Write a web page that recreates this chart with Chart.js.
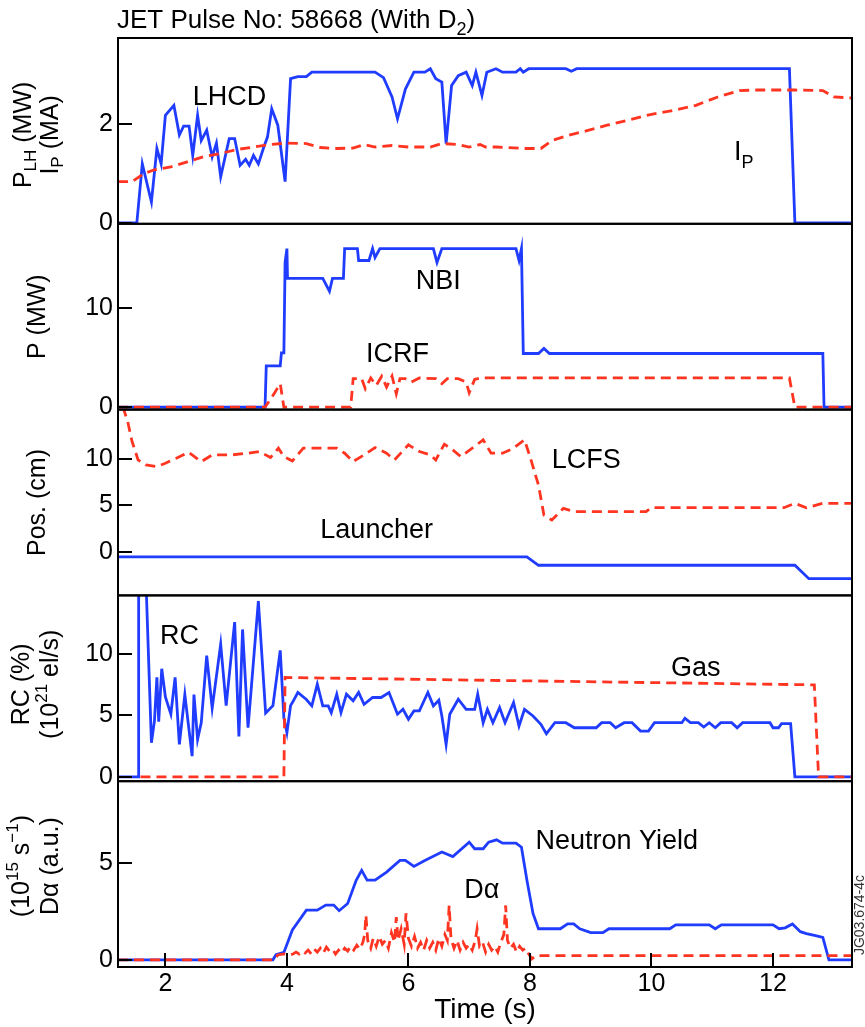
<!DOCTYPE html>
<html>
<head>
<meta charset="utf-8">
<title>JET Pulse No: 58668</title>
<script src="https://cdn.jsdelivr.net/npm/chart.js@4.4.1/dist/chart.umd.min.js"></script>
<style>
  html, body { margin: 0; padding: 0; background: #fff; }
  #wrap { position: relative; width: 865px; height: 1027px; }
</style>
</head>
<body>
<div id="wrap"><canvas id="pulse" width="865" height="1027"></canvas></div>
<script>
// ---- time axis ----
const timeTicks = [2, 4, 6, 8, 10, 12];

// ---- panel 1: LHCD power and plasma current ----
const lhTicks = [0, 2];
const lhcdTime = [1.22, 1.53, 1.62, 1.77, 1.86, 1.93, 2.0, 2.14, 2.23, 2.3, 2.39, 2.45, 2.53, 2.59, 2.68, 2.77, 2.84, 2.91, 3.05, 3.14, 3.23, 3.32, 3.38, 3.45, 3.53, 3.62, 3.68, 3.75, 3.85, 3.97, 4.06, 4.18, 4.32, 4.41, 5.45, 5.59, 5.73, 5.82, 5.95, 6.09, 6.27, 6.36, 6.45, 6.55, 6.62, 6.71, 6.82, 6.95, 7.05, 7.11, 7.21, 7.29, 7.44, 7.55, 7.77, 7.84, 7.89, 7.98, 8.59, 8.68, 8.77, 12.27, 12.36, 13.3];
const lhcdPower = [0, 0, 1.19, 0.42, 1.5, 1.19, 2.17, 2.37, 1.77, 1.95, 1.95, 1.36, 2.17, 1.66, 1.87, 1.33, 1.61, 0.93, 1.7, 1.7, 1.16, 1.28, 1.16, 1.36, 1.19, 1.53, 1.73, 2.3, 1.97, 0.83, 2.91, 2.95, 2.95, 3.04, 3.04, 2.93, 2.54, 2.1, 2.7, 3.04, 3.04, 3.11, 2.91, 2.84, 1.6, 2.77, 2.97, 3.04, 2.77, 3.04, 2.57, 3.04, 3.11, 3.04, 3.04, 3.11, 3.04, 3.11, 3.11, 3.06, 3.11, 3.11, 0, 0];
const ipTime = [1.22, 1.45, 1.64, 1.82, 2.09, 2.36, 2.64, 2.91, 3.18, 3.45, 3.73, 4.0, 4.32, 4.55, 4.82, 5.09, 5.27, 5.45, 5.73, 6.0, 6.36, 6.55, 6.82, 7.0, 7.18, 7.27, 7.45, 7.91, 8.18, 8.36, 8.64, 8.91, 9.27, 9.64, 10.0, 10.36, 10.73, 11.09, 11.45, 11.73, 12.0, 12.36, 12.82, 13.0, 13.3];
const ipCurrent = [0.83, 0.83, 0.99, 1.07, 1.13, 1.23, 1.34, 1.4, 1.48, 1.53, 1.58, 1.61, 1.6, 1.52, 1.5, 1.51, 1.58, 1.53, 1.56, 1.53, 1.53, 1.6, 1.58, 1.53, 1.58, 1.53, 1.53, 1.5, 1.5, 1.66, 1.77, 1.85, 1.97, 2.08, 2.19, 2.27, 2.37, 2.54, 2.67, 2.68, 2.68, 2.68, 2.67, 2.54, 2.52];

// ---- panel 2: NBI and ICRF power ----
const pTicks = [0, 10];
const nbiTime = [1.22, 3.64, 3.66, 3.89, 3.91, 3.95, 3.97, 4.0, 4.01, 4.59, 4.7, 4.75, 4.93, 4.95, 5.16, 5.18, 5.35, 5.41, 5.45, 5.53, 6.41, 6.47, 6.55, 7.77, 7.82, 7.86, 7.89, 8.14, 8.23, 8.32, 12.82, 12.84, 13.3];
const nbiPower = [0, 0, 4.17, 4.17, 5.49, 5.49, 14.6, 16.0, 13.0, 13.0, 11.7, 13.0, 13.0, 16.0, 16.0, 14.8, 14.8, 16.0, 15.1, 16.0, 16.0, 14.6, 16.0, 16.0, 14.8, 16.0, 5.42, 5.42, 5.93, 5.42, 5.42, 0, 0];
const icrfTime = [1.22, 3.64, 3.77, 3.89, 3.95, 5.05, 5.09, 5.23, 5.29, 5.38, 5.47, 5.56, 5.64, 5.73, 5.8, 5.86, 5.95, 6.05, 6.18, 6.45, 6.55, 6.64, 6.82, 6.95, 7.0, 7.09, 7.18, 12.27, 12.36, 13.3];
const icrfPower = [0, 0, 1.19, 2.37, 0, 0, 2.88, 2.88, 1.86, 2.95, 2.2, 3.12, 2.03, 3.15, 1.36, 2.88, 2.88, 2.54, 2.95, 2.88, 2.37, 2.88, 2.88, 2.54, 1.46, 2.81, 2.95, 2.95, 0, 0];

// ---- panel 3: LCFS and launcher position ----
const posTicks = [0, 5, 10];
const lcfsTime = [1.3, 1.38, 1.45, 1.55, 1.68, 1.86, 2.0, 2.18, 2.38, 2.59, 2.77, 3.09, 3.36, 3.55, 3.73, 3.86, 3.95, 4.09, 4.27, 4.55, 4.82, 4.95, 5.09, 5.27, 5.45, 5.64, 5.77, 6.0, 6.18, 6.36, 6.45, 6.59, 6.73, 6.86, 7.05, 7.23, 7.36, 7.55, 7.73, 7.91, 8.0, 8.14, 8.23, 8.36, 8.55, 8.73, 9.91, 10.0, 12.18, 12.36, 12.55, 12.82, 13.3];
const lcfsPos = [15.6, 14.0, 11.9, 9.9, 9.35, 9.17, 9.53, 10.07, 10.72, 9.71, 10.43, 10.43, 10.61, 10.79, 10.14, 11.15, 10.25, 9.78, 11.15, 11.15, 11.15, 10.61, 9.71, 10.43, 11.22, 10.61, 9.89, 11.51, 10.79, 10.43, 9.89, 11.58, 10.97, 10.25, 11.15, 12.05, 10.61, 10.61, 11.15, 12.05, 10.25, 7.19, 3.96, 3.42, 4.68, 4.32, 4.32, 4.75, 4.75, 5.22, 4.75, 5.22, 5.22];
const launcherTime = [1.22, 7.95, 8.14, 12.36, 12.59, 13.3];
const launcherPos = [-0.54, -0.54, -1.44, -1.44, -2.88, -2.88];

// ---- panel 4: radiation fraction and gas rate ----
const rcTicks = [0, 5, 10];
const rcTime = [1.22, 1.55, 1.56, 1.68, 1.77, 1.82, 1.86, 1.89, 1.94, 2.0, 2.09, 2.16, 2.23, 2.32, 2.44, 2.47, 2.53, 2.59, 2.68, 2.77, 2.91, 3.0, 3.14, 3.21, 3.27, 3.36, 3.41, 3.53, 3.65, 3.77, 3.89, 3.95, 4.0, 4.06, 4.09, 4.18, 4.32, 4.41, 4.5, 4.59, 4.68, 4.73, 4.82, 4.89, 4.98, 5.09, 5.18, 5.27, 5.41, 5.55, 5.68, 5.82, 5.91, 6.0, 6.09, 6.18, 6.32, 6.41, 6.5, 6.55, 6.62, 6.68, 6.82, 6.95, 7.09, 7.14, 7.23, 7.3, 7.39, 7.5, 7.59, 7.73, 7.82, 7.91, 8.05, 8.18, 8.27, 8.41, 8.59, 8.73, 9.09, 9.18, 9.32, 9.41, 9.55, 9.68, 9.82, 9.95, 10.05, 10.5, 10.55, 10.64, 10.77, 10.86, 10.95, 11.05, 11.14, 11.32, 11.41, 11.5, 11.95, 12.0, 12.09, 12.14, 12.29, 12.36, 13.3];
const rcValue = [0, 0, 16, 16, 2.78, 4.55, 8.1, 4.5, 8.8, 6.5, 5.1, 8.1, 2.64, 6.7, 1.69, 6.7, 3.05, 4.4, 9.86, 5.6, 10.8, 5.8, 12.6, 3.3, 12.0, 4.0, 7.0, 14.3, 5.2, 5.8, 10.3, 4.8, 3.6, 5.8, 6.05, 6.87, 6.3, 5.78, 7.55, 5.78, 5.78, 5.23, 6.73, 5.23, 6.73, 6.19, 6.87, 5.91, 6.46, 6.46, 6.87, 5.1, 5.5, 4.69, 5.37, 5.37, 6.87, 5.78, 6.24, 4.96, 2.64, 5.1, 6.32, 5.5, 5.5, 6.73, 4.41, 5.5, 4.41, 5.64, 4.41, 6.05, 4.14, 5.5, 4.96, 4.28, 3.51, 4.41, 4.41, 4.0, 4.0, 4.41, 4.41, 4.0, 4.41, 4.41, 3.73, 3.73, 4.41, 4.41, 4.77, 4.41, 4.41, 4.06, 4.41, 4.0, 4.41, 4.41, 4.0, 4.41, 4.41, 4.0, 4.0, 4.33, 4.33, 0, 0];
const gasTime = [1.59, 3.95, 3.97, 12.68, 12.75, 13.3];
const gasRate = [0, 0, 8.09, 7.49, 0, 0];

// ---- panel 5: neutron yield and D-alpha ----
const nTicks = [0, 5];
const neutronTime = [1.22, 3.77, 3.82, 3.95, 4.09, 4.32, 4.5, 4.64, 4.77, 4.86, 5.0, 5.14, 5.23, 5.32, 5.45, 5.64, 5.86, 5.95, 6.09, 6.27, 6.55, 6.73, 7.0, 7.09, 7.23, 7.32, 7.45, 7.55, 7.77, 7.86, 7.95, 8.05, 8.14, 8.27, 8.5, 8.62, 8.72, 8.82, 9.0, 9.2, 9.3, 10.3, 10.4, 10.95, 11.05, 11.15, 12.0, 12.1, 12.2, 12.32, 12.45, 12.55, 12.7, 12.82, 12.92, 13.3];
const neutronYield = [0, 0, 0.26, 0.38, 1.54, 2.56, 2.56, 2.82, 2.82, 2.53, 2.9, 4.1, 4.61, 4.1, 4.1, 4.52, 5.12, 5.12, 4.81, 5.12, 5.55, 5.32, 6.06, 5.72, 5.72, 6.06, 6.18, 6.01, 6.01, 5.8, 4.1, 2.39, 1.6, 1.6, 1.6, 1.85, 1.85, 1.6, 1.4, 1.4, 1.6, 1.6, 1.8, 1.8, 1.6, 1.8, 1.8, 1.6, 1.65, 1.85, 1.45, 1.35, 1.25, 1.15, 0, 0];
const dalphaTime = [1.22, 3.8, 3.85, 3.95, 4.05, 4.1, 4.15, 4.2, 4.25, 4.3, 4.35, 4.4, 4.45, 4.5, 4.55, 4.6, 4.65, 4.7, 4.75, 4.8, 4.85, 4.9, 4.95, 5.0, 5.05, 5.1, 5.15, 5.2, 5.25, 5.28, 5.3, 5.33, 5.38, 5.42, 5.47, 5.52, 5.57, 5.62, 5.67, 5.72, 5.77, 5.8, 5.83, 5.88, 5.93, 5.96, 6.0, 6.05, 6.1, 6.15, 6.2, 6.25, 6.3, 6.35, 6.4, 6.45, 6.5, 6.55, 6.6, 6.64, 6.67, 6.7, 6.75, 6.8, 6.85, 6.9, 6.95, 7.0, 7.05, 7.1, 7.13, 7.17, 7.22, 7.27, 7.32, 7.37, 7.42, 7.47, 7.52, 7.57, 7.6, 7.63, 7.68, 7.73, 7.78, 7.83, 7.88, 7.93, 7.98, 8.03, 8.1, 13.3];
const dalphaValue = [0, 0, 0.25, 0.3, 0.25, 0.3, 0.4, 0.3, 0.45, 0.35, 0.5, 0.3, 0.55, 0.4, 0.6, 0.35, 0.65, 0.45, 0.55, 0.3, 0.5, 0.35, 0.6, 0.45, 0.7, 0.5, 0.75, 0.55, 0.9, 1.3, 2.3, 1.0, 0.6, 1.1, 0.7, 1.2, 0.8, 1.0, 0.6, 1.4, 0.9, 2.2, 1.0, 1.6, 0.8, 2.4, 1.1, 0.7, 1.2, 0.6, 0.9, 0.5, 1.0, 0.6, 0.9, 0.5, 1.1, 0.7, 1.3, 1.0, 2.8, 1.1, 0.6, 1.0, 0.5, 0.9, 0.6, 0.8, 0.5, 1.0, 1.6, 0.7, 0.9, 0.4, 0.8, 0.5, 0.7, 0.4, 0.9, 1.3, 2.8, 1.0, 0.6, 0.8, 0.4, 0.7, 0.5, 0.6, 0.3, 0.05, 0.22, 0.22];

const FONT = "'Liberation Sans', Arial, Helvetica, sans-serif";
const BLUE = '#1f3cff';
const RED = '#ff3522';
const DASH = [10, 6];

const pairs = (ts, vs) => ts.map((t, i) => ({ x: t, y: vs[i] }));

// one vertical panel of the shot, all sharing the time axis;
// boxes in the left stack are laid out bottom-up by weight
function panelAxis(min, max, tickValues, weight) {
    return {
        type: 'linear',
        position: 'left',
        stack: 'shot',
        stackWeight: 1,
        weight: weight,
        min: min,
        max: max,
        afterBuildTicks: s => { s.ticks = tickValues.map(v => ({ value: v })); },
        afterFit: s => { s.width = 118; },
        grid: { display: false, drawTicks: false },
        border: { display: false },
        ticks: { font: { family: FONT, size: 25 }, color: '#000', padding: 5 }
    };
}

function solid(data, axis) {
    return { data: data, yAxisID: axis, borderColor: BLUE, borderWidth: 2.8, pointRadius: 0, fill: false, tension: 0 };
}
function dashed(data, axis) {
    return { data: data, yAxisID: axis, borderColor: RED, borderWidth: 2.8, borderDash: DASH, pointRadius: 0, fill: false, tension: 0 };
}

// text with sub/superscripts, parts = [[text, 'sub'|'sup'|undefined], ...]
function partFont(size, mode) {
    return (mode ? Math.round(size * 0.68) : size) + 'px ' + FONT;
}
function richWidth(ctx, parts, size) {
    let w = 0;
    parts.forEach(p => { ctx.font = partFont(size, p[1]); w += ctx.measureText(p[0]).width; });
    return w;
}
function drawRich(ctx, parts, x, y, size, align) {
    let cx = x;
    if (align === 'center') cx -= richWidth(ctx, parts, size) / 2;
    ctx.textAlign = 'left';
    parts.forEach(p => {
        ctx.font = partFont(size, p[1]);
        const dy = p[1] === 'sub' ? size * 0.28 : p[1] === 'sup' ? -size * 0.36 : 0;
        ctx.fillText(p[0], cx, y + dy);
        cx += ctx.measureText(p[0]).width;
    });
}

const axisTitles = [
    { axis: 'yLH', lines: [[['P'], ['LH', 'sub'], [' (MW)']], [['I'], ['P', 'sub'], [' (MA)']]], xs: [24, 51], dy: 4 },
    { axis: 'yP', lines: [[['P (MW)']]], xs: [38], dy: 0 },
    { axis: 'yPos', lines: [[['Pos. (cm)']]], xs: [38], dy: 0 },
    { axis: 'yRC', lines: [[['RC (%)']], [['(10'], ['21', 'sup'], [' el/s)']]], xs: [22, 51], dy: -4 },
    { axis: 'yN', lines: [[['(10'], ['15', 'sup'], [' s'], ['\u22121', 'sup'], [')']], [['D\u03b1 (a.u.)']]], xs: [22, 51], dy: -8 }
];

const notes = [
    { axis: 'yLH', t: 2.45, v: 2.37, parts: [['LHCD']] },
    { axis: 'yLH', t: 11.36, v: 1.26, parts: [['I'], ['P', 'sub']] },
    { axis: 'yP', t: 6.12, v: 11.9, parts: [['NBI']] },
    { axis: 'yP', t: 5.3, v: 4.58, parts: [['ICRF']] },
    { axis: 'yPos', t: 8.36, v: 9.0, parts: [['LCFS']] },
    { axis: 'yPos', t: 4.55, v: 1.44, parts: [['Launcher']] },
    { axis: 'yRC', t: 1.91, v: 10.8, parts: [['RC']] },
    { axis: 'yRC', t: 10.32, v: 8.2, parts: [['Gas']] },
    { axis: 'yN', t: 8.09, v: 5.72, parts: [['Neutron Yield']] },
    { axis: 'yN', t: 6.92, v: 3.16, parts: [['D\u03b1']] }
];

const framePlugin = {
    id: 'frame',
    afterDraw(chart) {
        const ctx = chart.ctx;
        const area = chart.chartArea;
        const x = chart.scales.x;
        ctx.save();
        ctx.strokeStyle = '#000';
        ctx.fillStyle = '#000';
        ctx.lineWidth = 2;

        // panel boxes and inward tick marks
        ['yLH', 'yP', 'yPos', 'yRC', 'yN'].forEach(id => {
            const s = chart.scales[id];
            ctx.strokeRect(area.left, s.top, area.right - area.left, s.bottom - s.top);
            s.ticks.forEach(tk => {
                const py = Math.round(s.getPixelForValue(tk.value));
                ctx.beginPath();
                ctx.moveTo(area.left, py);
                ctx.lineTo(area.left + 14, py);
                ctx.stroke();
            });
        });
        x.ticks.forEach(tk => {
            const px = Math.round(x.getPixelForValue(tk.value));
            ctx.beginPath();
            ctx.moveTo(px, area.bottom);
            ctx.lineTo(px, area.bottom - 14);
            ctx.stroke();
        });

        // rotated axis titles
        ctx.textBaseline = 'middle';
        axisTitles.forEach(at => {
            const s = chart.scales[at.axis];
            const cy = (s.top + s.bottom) / 2 + at.dy;
            at.lines.forEach((parts, i) => {
                ctx.save();
                ctx.translate(at.xs[i], cy);
                ctx.rotate(-Math.PI / 2);
                drawRich(ctx, parts, 0, 0, 25, 'center');
                ctx.restore();
            });
        });

        // series labels inside the panels
        ctx.textBaseline = 'alphabetic';
        notes.forEach(n => {
            const s = chart.scales[n.axis];
            drawRich(ctx, n.parts, x.getPixelForValue(n.t), s.getPixelForValue(n.v), 27, 'left');
        });

        // heading
        drawRich(ctx, [['JET Pulse No: 58668 (With D'], ['2', 'sub'], [')']], 117, 28, 26, 'left');

        // figure reference along the right edge
        ctx.save();
        ctx.translate(860, 915);
        ctx.rotate(-Math.PI / 2);
        ctx.fillStyle = '#333';
        ctx.textBaseline = 'middle';
        ctx.font = '14px ' + FONT;
        ctx.textAlign = 'center';
        ctx.fillText('JG03.674-4c', 0, 0);
        ctx.restore();

        ctx.restore();
    }
};

new Chart(document.getElementById('pulse'), {
    type: 'line',
    data: {
        datasets: [
            dashed(pairs(ipTime, ipCurrent), 'yLH'),
            solid(pairs(lhcdTime, lhcdPower), 'yLH'),
            dashed(pairs(icrfTime, icrfPower), 'yP'),
            solid(pairs(nbiTime, nbiPower), 'yP'),
            dashed(pairs(lcfsTime, lcfsPos), 'yPos'),
            solid(pairs(launcherTime, launcherPos), 'yPos'),
            dashed(pairs(gasTime, gasRate), 'yRC'),
            solid(pairs(rcTime, rcValue), 'yRC'),
            dashed(pairs(dalphaTime, dalphaValue), 'yN'),
            solid(pairs(neutronTime, neutronYield), 'yN')
        ]
    },
    options: {
        responsive: false,
        animation: false,
        layout: { padding: { top: 38, right: 13, bottom: 0, left: 0 } },
        plugins: { legend: { display: false }, tooltip: { enabled: false } },
        scales: {
            x: {
                type: 'linear',
                position: 'bottom',
                min: 1.22,
                max: 13.3,
                afterBuildTicks: s => { s.ticks = timeTicks.map(v => ({ value: v })); },
                afterFit: s => { s.height = 60; },
                grid: { display: false, drawTicks: false },
                border: { display: false },
                ticks: { font: { family: FONT, size: 25 }, color: '#000', padding: 2, maxRotation: 0 },
                title: { display: true, text: 'Time (s)', color: '#000', font: { family: FONT, size: 28 }, padding: { top: 0, bottom: 0 } }
            },
            yLH: panelAxis(-0.02, 3.73, lhTicks, 5),
            yP: panelAxis(-0.24, 18.5, pTicks, 4),
            yPos: panelAxis(-4.68, 15.3, posTicks, 3),
            yRC: panelAxis(-0.35, 14.77, rcTicks, 2),
            yN: panelAxis(-0.37, 9.2, nTicks, 1)
        }
    },
    plugins: [framePlugin]
});
</script>
</body>
</html>
